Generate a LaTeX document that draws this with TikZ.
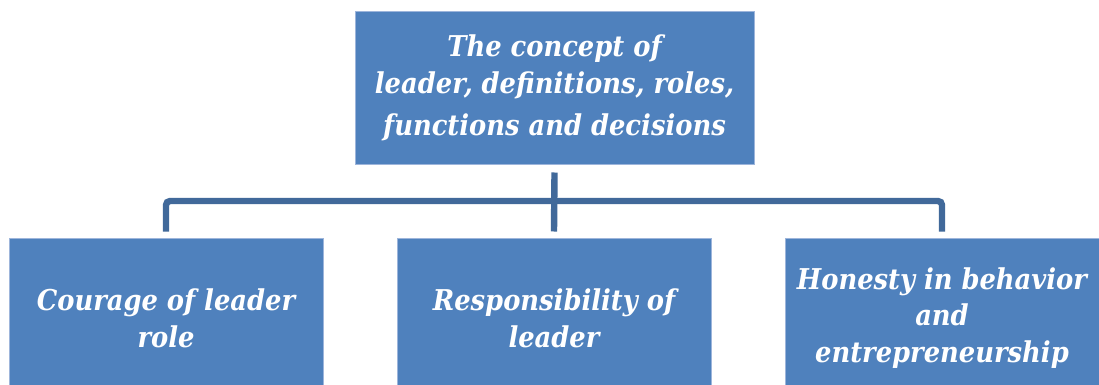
\documentclass[tikz,border=0pt]{standalone}
\usepackage{fontspec}
\setmainfont{DejaVu Serif Condensed}
\definecolor{boxfill}{HTML}{4F81BD}
\definecolor{boxedge}{HTML}{9DB5DB}
\definecolor{connblue}{HTML}{41699A}
\begin{document}
\begin{tikzpicture}[x=0.75pt,y=-0.75pt,
  box/.style={draw=boxedge, line width=0.75pt, fill=boxfill, text=white,
    inner sep=0pt, align=center,
    font=\fontsize{21.5pt}{27.5pt}\selectfont\bfseries\itshape},
  topbox/.style={box, minimum width=299.25pt, minimum height=114pt},
  subbox/.style={box, minimum width=235.5pt, minimum height=120pt},
  conn/.style={draw=connblue, line width=4.8pt}]
\useasboundingbox (0,0) rectangle (1099,385);
\clip (0,0) rectangle (1099,385);

% boxes
\node[topbox] (top) at (554.5,88) {The concept of\\leader, definitions, roles,\\[4.5pt]functions and decisions};
\node[subbox] (b1) at (166,318) {Courage of leader\\role};
\node[subbox] (b2) at (554,318) {Responsibility of\\leader};
\node[subbox] (b3) at (942,318) {Honesty in behavior\\and\\entrepreneurship};

% connectors
\coordinate (bar) at (554,201);
\draw[conn] ([yshift=-6pt]top.south) -- ([yshift=4.5pt]b2.north);
\draw[conn, rounded corners=3pt] ([yshift=4.5pt]b1.north) |- (bar) -| ([yshift=4.5pt]b3.north);
\end{tikzpicture}
\end{document}
